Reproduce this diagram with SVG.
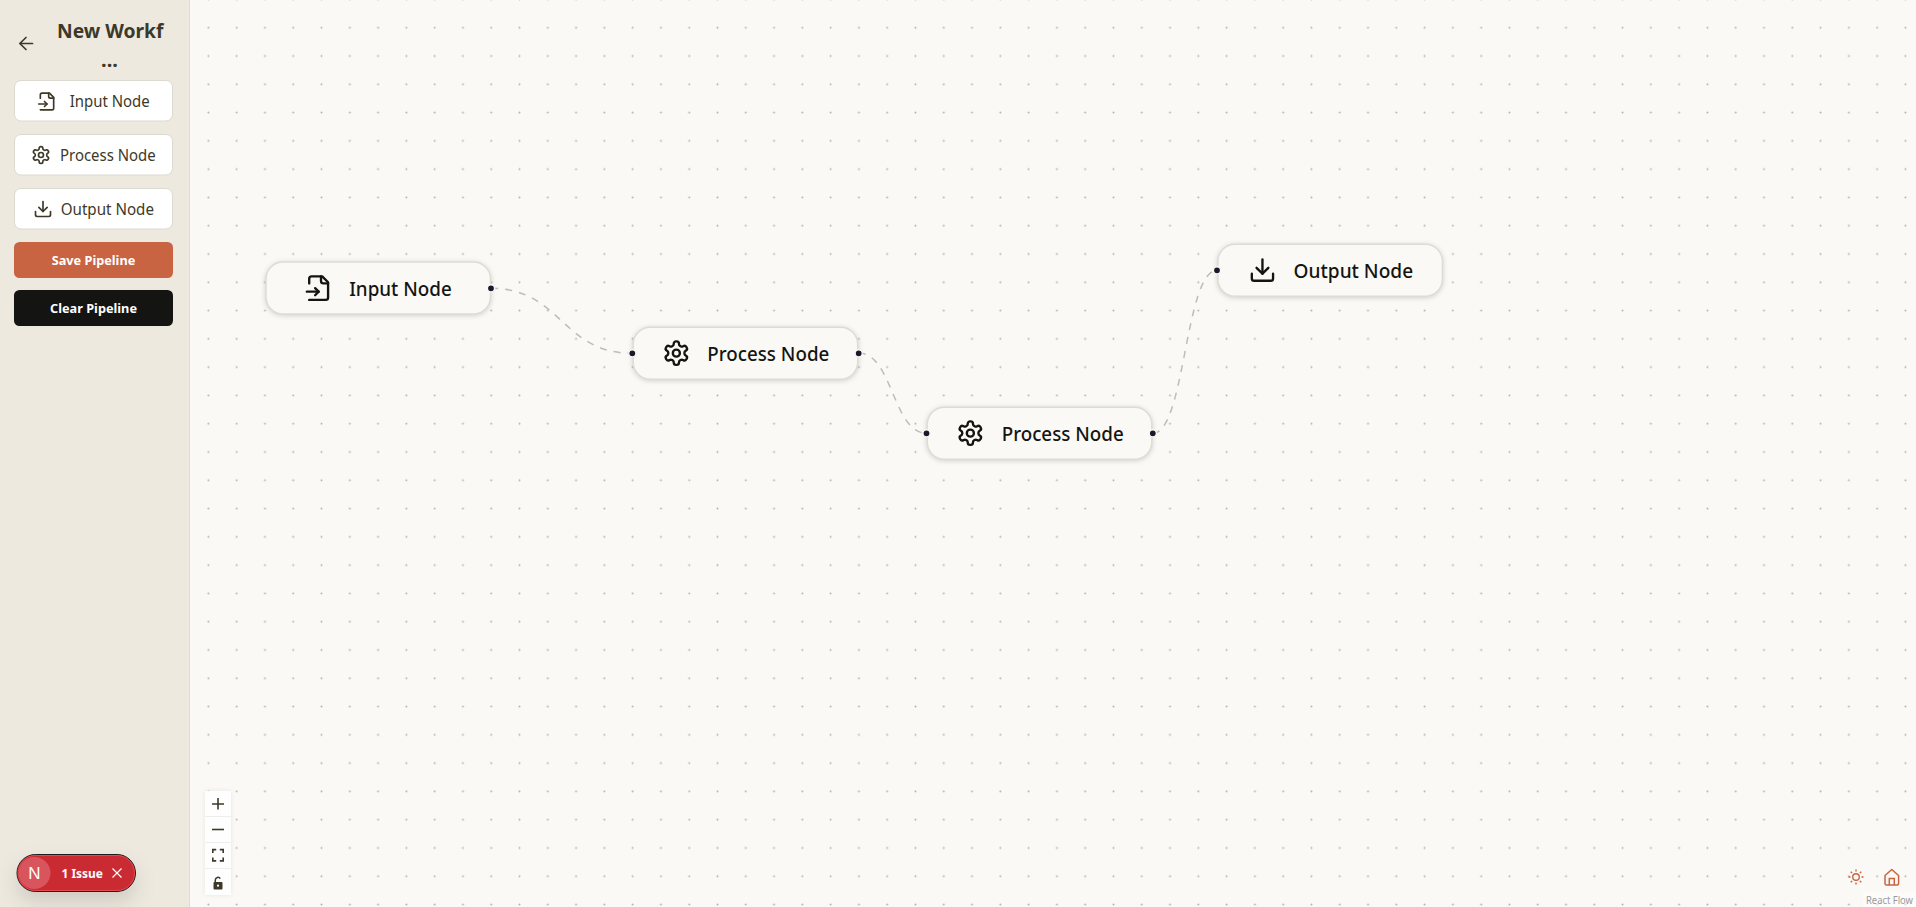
<svg xmlns="http://www.w3.org/2000/svg" width="1916" height="907" viewBox="0 0 1916 907">
<style>
text{font-family:"Noto Sans","Open Sans","Liberation Sans",sans-serif}
.node{fill:#faf9f5;stroke:#dedcd5;stroke-width:1.5;filter:drop-shadow(0 1.5px 2.5px rgba(0,0,0,.16))}
.nt{font-size:19.8px;font-weight:500;fill:#141413}
.ni{fill:none;stroke:#141413;stroke-width:2;stroke-linecap:round;stroke-linejoin:round}
.si{fill:none;stroke:#3d3929;stroke-width:2;stroke-linecap:round;stroke-linejoin:round}
.btn{fill:#fff;stroke:#dcd9d0;stroke-width:1}
.bt{font-size:15.5px;fill:#3d3929}
.act{font-size:13px;font-weight:700;fill:#fff;text-anchor:middle}
.h{fill:#1a192b;stroke:#faf9f5;stroke-width:1.4}
.edge{fill:none;stroke:#bcbcc1;stroke-width:1.5;stroke-dasharray:7.07 7.07}
.cs{fill:none;stroke:#3d3929;stroke-width:1.6}
</style>
<defs>
<pattern id="dots" patternUnits="userSpaceOnUse" x="-3.74" y="-14.7" width="28.284" height="28.284"><circle cx="14.142" cy="14.142" r="0.95" fill="#b0b0b2"/></pattern>
<symbol id="i-file" viewBox="0 0 24 24"><path d="M4 22h14a2 2 0 0 0 2-2V7l-5-5H6a2 2 0 0 0-2 2v4"/><path d="M14 2v4a2 2 0 0 0 2 2h4"/><path d="M2 15h10"/><path d="m9 18 3-3-3-3"/></symbol>
<symbol id="i-gear" viewBox="0 0 24 24"><path d="M12.22 2h-.44a2 2 0 0 0-2 2v.18a2 2 0 0 1-1 1.73l-.43.25a2 2 0 0 1-2 0l-.15-.08a2 2 0 0 0-2.73.73l-.22.38a2 2 0 0 0 .73 2.73l.15.1a2 2 0 0 1 1 1.72v.51a2 2 0 0 1-1 1.74l-.15.09a2 2 0 0 0-.73 2.73l.22.38a2 2 0 0 0 2.73.73l.15-.08a2 2 0 0 1 2 0l.43.25a2 2 0 0 1 1 1.73V20a2 2 0 0 0 2 2h.44a2 2 0 0 0 2-2v-.18a2 2 0 0 1 1-1.73l.43-.25a2 2 0 0 1 2 0l.15.08a2 2 0 0 0 2.73-.73l.22-.39a2 2 0 0 0-.73-2.73l-.15-.08a2 2 0 0 1-1-1.74v-.5a2 2 0 0 1 1-1.74l.15-.09a2 2 0 0 0 .73-2.73l-.22-.38a2 2 0 0 0-2.73-.73l-.15.08a2 2 0 0 1-2 0l-.43-.25a2 2 0 0 1-1-1.73V4a2 2 0 0 0-2-2z"/><circle cx="12" cy="12" r="3"/></symbol>
<symbol id="i-down" viewBox="0 0 24 24"><path d="M21 15v4a2 2 0 0 1-2 2H5a2 2 0 0 1-2-2v-4"/><path d="M7 10l5 5 5-5"/><path d="M12 15V3"/></symbol>
<filter id="badgeShadow" x="-30%" y="-60%" width="160%" height="260%"><feDropShadow dx="0" dy="10" stdDeviation="10" flood-color="#000" flood-opacity=".13"/></filter>
</defs>

<g id="canvas">
<rect width="1916" height="907" fill="#faf9f5"/>
<rect width="1916" height="907" fill="url(#dots)"/>
</g>

<g id="connectors">
<path class="edge" d="M491 288.3C561.5 288.3 561.5 353.3 632.3 353.3"/>
<path class="edge" d="M858.7 353C892.7 353 892.7 433.3 926.8 433.3"/>
<path class="edge" d="M1153 433.3C1185 433.3 1185 270.3 1217 270.3"/>
</g>

<g id="node-input">
<rect class="node" x="266" y="262" width="224.5" height="52" rx="17"/>
<use href="#i-file" class="ni" x="304.5" y="274" width="28.3" height="28.3"/>
<text class="nt" x="349.2" y="295.5" textLength="102.5" lengthAdjust="spacingAndGlyphs">Input Node</text>
<circle class="h" cx="491" cy="288.3" r="3.6"/>
</g>
<g id="node-process-1">
<rect class="node" x="633.2" y="327.2" width="224.5" height="52" rx="17"/>
<use href="#i-gear" class="ni" x="662.2" y="339" width="28.3" height="28.3"/>
<text class="nt" x="707.3" y="360.6" textLength="122" lengthAdjust="spacingAndGlyphs">Process Node</text>
<circle class="h" cx="632.3" cy="353.3" r="3.6"/>
<circle class="h" cx="858.7" cy="353.3" r="3.6"/>
</g>
<g id="node-process-2">
<rect class="node" x="927.3" y="407.2" width="224.5" height="52" rx="17"/>
<use href="#i-gear" class="ni" x="956.2" y="419" width="28.3" height="28.3"/>
<text class="nt" x="1001.7" y="440.9" textLength="122" lengthAdjust="spacingAndGlyphs">Process Node</text>
<circle class="h" cx="926.5" cy="433.3" r="3.6"/>
<circle class="h" cx="1152.8" cy="433.3" r="3.6"/>
</g>
<g id="node-output">
<rect class="node" x="1217.9" y="244.3" width="224.5" height="52" rx="17"/>
<use href="#i-down" class="ni" x="1248.3" y="256" width="28.3" height="28.3"/>
<text class="nt" x="1293.6" y="277.5" textLength="119.5" lengthAdjust="spacingAndGlyphs">Output Node</text>
<circle class="h" cx="1217" cy="270.3" r="3.6"/>
</g>

<g id="sidebar">
<rect width="189" height="907" fill="#ede9df"/>
<rect x="189" width="1" height="907" fill="#dedbd2"/>
<path d="M32.5 43.5H20M26 37.5l-6.2 6 6.2 6" fill="none" stroke="#3d3929" stroke-width="1.7" stroke-linecap="round" stroke-linejoin="round"/>
<text x="57" y="37.5" font-size="20" font-weight="700" fill="#3d3929" textLength="106.5" lengthAdjust="spacingAndGlyphs">New Workf</text>
<text x="109.5" y="67" font-size="20" font-weight="700" fill="#3d3929" text-anchor="middle">...</text>
</g>
<g id="btn-input">
<rect class="btn" x="14.5" y="80.5" width="158" height="40.5" rx="6.5"/>
<use href="#i-file" class="si" x="37" y="91.5" width="20" height="20"/>
<text class="bt" x="69.7" y="106.5" textLength="80" lengthAdjust="spacingAndGlyphs">Input Node</text>
</g>
<g id="btn-process">
<rect class="btn" x="14.5" y="134.5" width="158" height="40.5" rx="6.5"/>
<use href="#i-gear" class="si" x="31" y="145" width="20" height="20"/>
<text class="bt" x="60" y="160.5" textLength="95.7" lengthAdjust="spacingAndGlyphs">Process Node</text>
</g>
<g id="btn-output">
<rect class="btn" x="14.5" y="188.5" width="158" height="40.5" rx="6.5"/>
<use href="#i-down" class="si" x="33" y="199" width="20" height="20"/>
<text class="bt" x="60.7" y="214.5" textLength="93.3" lengthAdjust="spacingAndGlyphs">Output Node</text>
</g>
<g id="btn-save">
<rect x="14" y="242" width="159" height="36" rx="5.5" fill="#c96442"/>
<text class="act" x="93.5" y="265" textLength="83.6" lengthAdjust="spacingAndGlyphs">Save Pipeline</text>
</g>
<g id="btn-clear">
<rect x="14" y="290" width="159" height="36" rx="5.5" fill="#141413"/>
<text class="act" x="93.5" y="313" textLength="87" lengthAdjust="spacingAndGlyphs">Clear Pipeline</text>
</g>

<g id="controls">
<rect x="205" y="791" width="26" height="104" fill="#fefefe" style="filter:drop-shadow(0 0 2px rgba(0,0,0,.08))"/>
<path d="M205 816.5h26M205 842.5h26M205 868.5h26" stroke="#eeeeee" stroke-width="1" fill="none"/>
<path class="cs" d="M218 798v11.5M212 804h12"/>
<path class="cs" d="M212 829.5h12"/>
<path class="cs" stroke-width="1.5" d="M212.8 853v-3.4h3.400M219.800 849.600h3.400v3.400M223.200 857.500v3.400h-3.400M216.200 860.900h-3.400v-3.400"/>
<rect x="213.5" y="882" width="9" height="7.5" rx="1" fill="#3d3929"/>
<path d="M215.3 882.500v-2.500a2.700 2.700 0 0 1 5-1.400" fill="none" stroke="#3d3929" stroke-width="1.5"/>
<circle cx="218" cy="885.7" r="1.1" fill="#fff"/>
</g>

<g id="issue-badge">
<rect x="17" y="854.5" width="118.5" height="37" rx="18.5" fill="#ca2a30" stroke="#1c1c1c" stroke-width="1" filter="url(#badgeShadow)"/>
<rect x="18" y="855.5" width="116.5" height="35" rx="17.5" fill="none" stroke="#e5484d" stroke-width="1"/>
<circle cx="34.5" cy="873" r="16" fill="#d9555d"/>
<text x="34.5" y="879" font-size="17" fill="#fff" text-anchor="middle" style="font-family:'Liberation Sans',sans-serif">N</text>
<text x="61.5" y="877.5" font-size="12" font-weight="700" fill="#fff" textLength="41.5" lengthAdjust="spacingAndGlyphs">1 Issue</text>
<path d="M112.5 868.500l9 9M121.500 868.500l-9 9" stroke="#fff" stroke-width="1.2" fill="none"/>
</g>

<g id="corner">
<circle cx="1856" cy="877" r="3.3" fill="none" stroke="#c96442" stroke-width="1.4"/>
<path d="M1856 869.500v2M1856 882.500v2M1848.500 877h2M1861.500 877h2M1850.700 871.700l1.400 1.400M1859.900 880.900l1.400 1.400M1850.700 882.300l1.400-1.400M1859.900 873.100l1.400-1.400" stroke="#c96442" stroke-width="1.4" fill="none"/>
<path d="M1885 875.500l6.800-6 6.800 6v8a1.500 1.500 0 0 1-1.500 1.500h-10.600a1.500 1.500 0 0 1-1.500-1.500z" fill="none" stroke="#c96442" stroke-width="1.5" stroke-linejoin="round"/>
<path d="M1889.300 885v-6.500h5v6.500" fill="none" stroke="#c96442" stroke-width="1.5"/>
<rect x="1863" y="892" width="53" height="15" fill="#fff" fill-opacity=".5"/>
<text x="1866" y="904" font-size="10" fill="#999" textLength="47" lengthAdjust="spacingAndGlyphs">React Flow</text>
</g>
</svg>
